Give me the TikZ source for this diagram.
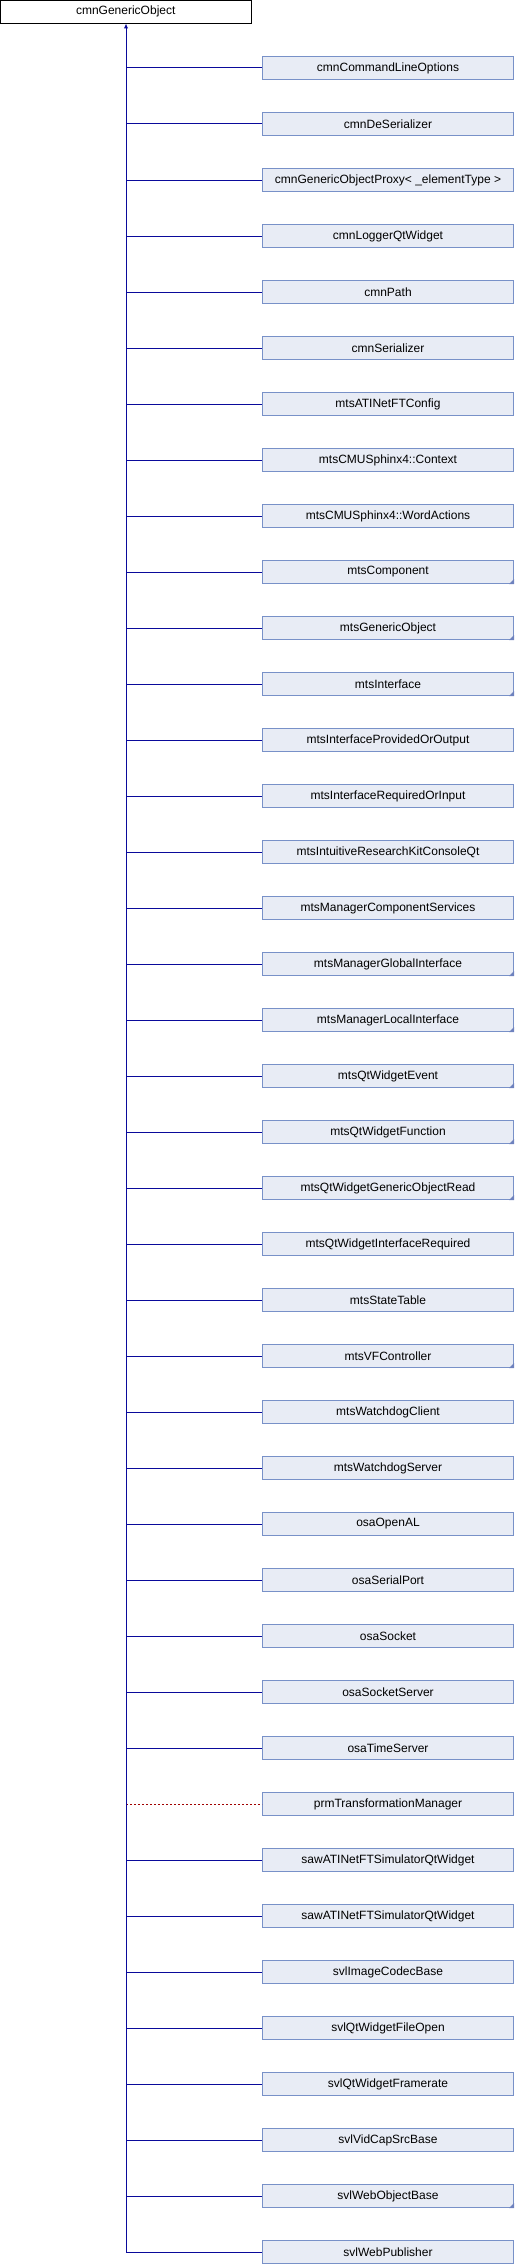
\documentclass[tikz,border=0pt]{standalone}
\usepackage{fontspec}
\setmainfont{Liberation Sans}
\usetikzlibrary{arrows.meta}
\definecolor{edgeblue}{RGB}{10,10,155}
\definecolor{edgered}{RGB}{160,0,0}
\definecolor{boxfill}{RGB}{232,236,245}
\definecolor{boxline}{RGB}{120,145,200}
\definecolor{cornerfill}{RGB}{110,130,190}
\tikzset{
  basebox/.style={draw=black, fill=white, line width=1pt, minimum width=251pt, minimum height=23pt, inner sep=0pt, font=\fontsize{12}{14}\selectfont},
  childbox/.style={draw=boxline, fill=boxfill, line width=1pt, minimum width=251pt, minimum height=23pt, inner sep=0pt, font=\fontsize{12}{14}\selectfont},
  inh/.style={draw=edgeblue, line width=1pt},
  tmpl/.style={draw=edgered, line width=1pt, dash pattern=on 2pt off 2pt},
  corner/.style={fill=cornerfill, draw=none}
}
\begin{document}
\begin{tikzpicture}[x=1pt,y=-1pt]
\useasboundingbox (0,0) rectangle (514,2264);
\node[basebox] (base) at (125.75,11.75) {cmnGenericObject};
\coordinate (trunktop) at (126,23.5);
\foreach \i/\name/\tri/\dotted in {
 0/cmnCommandLineOptions/0/0,
 1/cmnDeSerializer/0/0,
 2/{cmnGenericObjectProxy< \_elementType >}/0/0,
 3/cmnLoggerQtWidget/0/0,
 4/cmnPath/0/0,
 5/cmnSerializer/0/0,
 6/mtsATINetFTConfig/0/0,
 7/mtsCMUSphinx4::Context/0/0,
 8/mtsCMUSphinx4::WordActions/0/0,
 9/mtsComponent/1/0,
 10/mtsGenericObject/1/0,
 11/mtsInterface/1/0,
 12/mtsInterfaceProvidedOrOutput/0/0,
 13/mtsInterfaceRequiredOrInput/0/0,
 14/mtsIntuitiveResearchKitConsoleQt/0/0,
 15/mtsManagerComponentServices/0/0,
 16/mtsManagerGlobalInterface/1/0,
 17/mtsManagerLocalInterface/1/0,
 18/mtsQtWidgetEvent/1/0,
 19/mtsQtWidgetFunction/1/0,
 20/mtsQtWidgetGenericObjectRead/1/0,
 21/mtsQtWidgetInterfaceRequired/0/0,
 22/mtsStateTable/0/0,
 23/mtsVFController/1/0,
 24/mtsWatchdogClient/0/0,
 25/mtsWatchdogServer/0/0,
 26/osaOpenAL/0/0,
 27/osaSerialPort/0/0,
 28/osaSocket/0/0,
 29/osaSocketServer/0/0,
 30/osaTimeServer/0/0,
 31/prmTransformationManager/0/1,
 32/sawATINetFTSimulatorQtWidget/0/0,
 33/sawATINetFTSimulatorQtWidget/0/0,
 34/svlImageCodecBase/0/0,
 35/svlQtWidgetFileOpen/0/0,
 36/svlQtWidgetFramerate/0/0,
 37/svlVidCapSrcBase/0/0,
 38/svlWebObjectBase/1/0,
 39/svlWebPublisher/0/0}
{
  \pgfmathsetmacro{\yy}{68+56*\i}
  \node[childbox] (c\i) at (388,\yy) {\name};
  \coordinate (j\i) at (126,\yy);
  \ifnum\tri=1
    \fill[corner] (c\i.south east) -- ++(-5,0) -- ++(5,-5) -- cycle;
  \fi
  \ifnum\dotted=1
    \draw[tmpl] (j\i) -- (c\i.west);
  \else
    \draw[inh] (j\i) -- (c\i.west);
  \fi
}
\draw[inh, -{Latex[length=5pt,width=4.5pt]}] (j39) -- (trunktop);
\end{tikzpicture}
\end{document}
